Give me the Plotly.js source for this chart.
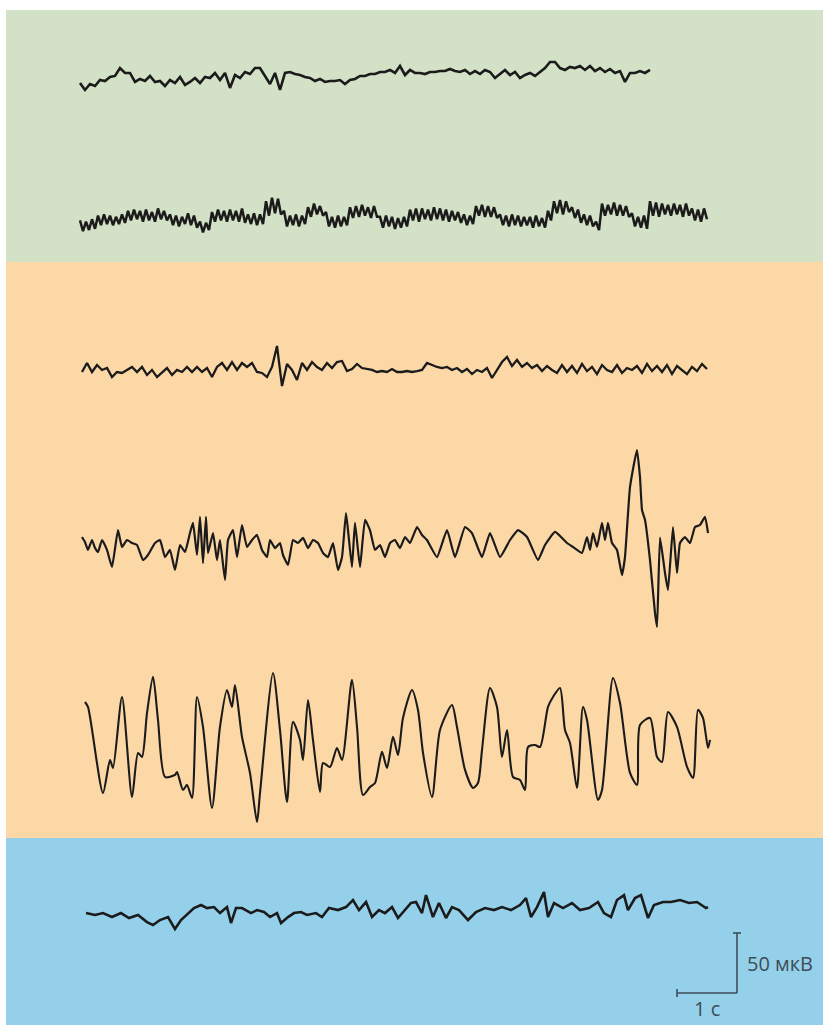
<!DOCTYPE html>
<html>
<head>
<meta charset="utf-8">
<script src="https://cdn.plot.ly/plotly-3.0.1.min.js"></script>
<style>html,body{margin:0;padding:0;background:#fff;}#chart{width:823px;height:1027px;}</style>
</head>
<body>
<div id="chart"></div>
<script>
// ---------------- DATA (time in s, amplitude in µV) ----------------
// Channel 1 (uniform sampling)
const ch1Start = 0, ch1Step = 1/12;
const ch1Values = [-4.2,-10,-5,-6.7,-1.7,-2.5,0.8,1.7,8.3,4.2,
4.2,-3.3,-0.8,-2.5,1.7,-3.3,-2.5,-6.7,-1.7,-4.2,
0.8,-5.8,-3.3,0,-4.2,0.8,0,4.2,-1.7,4.2,
-8.3,2.5,0,5,3.3,8.3,8.3,1.7,-5,4.2,
-10,4.2,5,3.3,2.5,0.8,0,-2.5,-0.8,-3.3,
-2.5,-2.5,-1.7,-5,-1.7,-0.8,1.7,1.7,3.3,3.3,
5,5,6.7,4.2,10,2.5,6.7,4.2,4.2,3.3,
5,5,5.8,5.8,7.5,5.8,5,6.7,3.3,5.8,
3.3,6.7,5,0,3.3,6.7,2.5,5,0,2.5,
4.2,1.7,5,8.3,13.3,13.3,8.3,6.7,9.2,8.3,
10,6.7,10,5.8,8.3,5,7.5,4.2,5.8,-3.3,
4.2,4.2,5.8,4.2,6.7];

// Channel 2 (uniform sampling)
const ch2Start = 0, ch2Step = 0.05;
const ch2Values = [-2,-11,-3,-10,-1,-9,2,-6,3,-5,
2,-6,1,-5,3,-4,6,-2,7,-1,
6,-3,7,-2,5,-3,8,-1,6,-2,
3,-6,2,-7,1,-5,4,-6,2,-8,
-3,-12,-4,-10,5,-3,7,-2,6,-3,
7,-2,6,-3,8,-4,3,-5,4,-6,
3,-5,14,2,17,4,16,3,6,-7,
2,-6,3,-7,2,-5,9,1,12,3,
10,2,5,-7,1,-8,2,-7,1,-6,
9,0,10,1,11,2,9,0,10,1,
1,-8,2,-7,1,-9,0,-8,1,-7,
7,-2,8,-3,8,-1,7,-2,9,-1,
8,-2,7,-3,6,-2,5,-4,3,-6,
2,-5,10,2,11,1,10,1,9,0,
3,-6,2,-7,3,-6,2,-7,1,-6,
1,-8,2,-7,0,-8,6,-2,14,4,
15,3,14,5,9,0,7,-4,3,-6,
2,-7,-3,-10,12,2,11,3,13,2,
11,2,10,1,4,-7,1,-8,2,-9,
14,2,13,1,12,3,11,2,12,3,
11,1,12,2,8,-2,7,-3,8,-1];

// Channel 3 (uniform sampling)
const ch3Start = 1/30, ch3Step = 1/12;
const ch3Values = [-2.5,5,-2.5,3.3,-0.8,0.8,-6.7,-2.5,-3.3,-0.8,
1.7,-2.5,1.7,-5,-0.8,-6.7,-3.3,0.8,-5,-0.8,
-2.5,1.7,-2.5,1.7,-2.5,0.8,-6.7,1.7,5,-0.8,
5.8,-0.8,5,1.7,5,-2.5,-3.3,-6.7,1.7,19.2,
-14.2,4.2,-0.8,-9.2,5,-0.8,5.8,1.7,-0.8,5,
0.8,5.8,6.7,-1.7,0,4.2,0.8,0,-0.8,-2.5,
-1.7,-2.5,0,-2.5,-2.5,-1.7,-2.5,-1.7,-0.8,5,
3.3,1.7,0.8,1.7,-0.8,0.8,-2.5,0,-4.2,-0.8,
-2.5,0.8,-7.5,-0.8,5.8,10,2.5,7.5,1.7,5,
0.8,3.3,-1.7,2.5,-0.8,-3.3,3.3,-2.5,2.5,-3.3,
4.2,-1.7,1.7,-4.2,3.3,-0.8,-2.5,3.3,-3.3,0.8,
-0.8,2.5,-3.3,4.2,-1.7,2.5,-2.5,3.3,-4.2,2.5,
-0.8,-4.2,1.7,-1.7,4.2,0];

// Channel 4
const ch4Time = [0.033,0.083,0.133,0.2,0.25,0.3,0.367,0.45,0.533,0.633,
0.7,0.783,0.867,0.95,1.05,1.133,1.25,1.333,1.417,1.5,
1.583,1.667,1.75,1.833,1.883,1.95,2.0,2.05,2.1,2.133,
2.217,2.283,2.333,2.417,2.467,2.55,2.617,2.7,2.783,2.867,
2.95,3.033,3.117,3.167,3.25,3.333,3.383,3.467,3.55,3.633,
3.717,3.8,3.883,3.967,4.05,4.133,4.217,4.3,4.367,4.433,
4.467,4.533,4.583,4.667,4.75,4.833,4.917,5.0,5.083,5.167,
5.25,5.333,5.417,5.5,5.617,5.7,5.783,5.95,6.117,6.25,
6.417,6.533,6.7,6.833,7.0,7.167,7.3,7.45,7.633,7.75,
7.917,8.117,8.217,8.367,8.45,8.5,8.55,8.617,8.7,8.75,
8.8,8.867,8.95,9.033,9.083,9.167,9.283,9.333,9.367,9.417,
9.5,9.583,9.617,9.667,9.75,9.8,9.883,9.95,10.0,10.083,
10.167,10.25,10.333,10.417,10.467];
const ch4Values = [2.5,-1.7,-8.3,0,-6.7,-10,0,-8.3,-22.5,8.3,
-5.8,0,-2.5,-4.2,-16.7,-12.5,-2.5,0,-14.2,-8.3,
-25,-4.2,-10,5.8,14.2,-12.5,19.2,-19.2,19.2,-10.8,
5.8,-16.7,0,-33.3,0,8.3,-14.2,12.5,-5.8,0,
4.2,-8.3,-14.2,0,-6.7,-2.5,-12.5,-20.8,0,-2.5,
1.7,-6.7,0,-2.5,-10.8,-14.2,-2.5,-25,-14.2,22.5,
8.3,-22.5,14.2,-22.5,16.7,8.3,-8.3,-4.2,-14.2,-2.5,
0,-6.7,2.5,-2.5,10.8,4.2,0,-14.2,8.3,-14.2,
10.8,5.8,-14.2,5.8,-14.2,0,8.3,2.5,-16.7,-4.2,
6.7,-2.5,-5.8,-10.8,2.5,-8.3,5.8,-5.8,14.2,0,
14.2,-2.5,-8.3,-29.2,-14.2,44.2,75,52.5,25,16.7,
-16.7,-60.8,-72.5,2,-27.5,-41.7,10.8,-27.5,-2.5,2.5,
-2.5,10.8,12.5,19.2,5.8];

// Channel 5
const ch5Time = [0.083,0.133,0.383,0.5,0.55,0.7,0.867,0.967,1.033,1.117,
1.217,1.3,1.417,1.583,1.617,1.717,1.783,1.867,1.95,2.05,
2.2,2.333,2.45,2.533,2.583,2.7,2.833,2.95,3.0,3.217,
3.333,3.45,3.55,3.667,3.717,3.8,3.883,4.0,4.05,4.167,
4.283,4.367,4.533,4.617,4.717,4.833,4.917,5.033,5.117,5.217,
5.3,5.383,5.533,5.633,5.717,5.867,6.0,6.2,6.283,6.417,
6.55,6.633,6.7,6.833,6.95,7.033,7.117,7.217,7.333,7.417,
7.467,7.583,7.667,7.8,7.883,8.0,8.083,8.167,8.283,8.383,
8.45,8.633,8.7,8.883,9.0,9.167,9.283,9.333,9.5,9.617,
9.7,9.8,9.95,10.117,10.217,10.3,10.383,10.467,10.5];
const ch5Values = [35.8,31.7,-40,-12.5,-19.2,40,-43.3,-6.7,-10,26.7,
56.7,20.8,-26.7,-25,-22.5,-37.5,-33.3,-44.2,40,15,
-52.5,15,45.8,31.7,50,6.7,-23.3,-64.2,-40,60,
12.5,-47.5,19.2,4.2,-12.5,37.5,4.2,-39.2,-15,-18.3,
-2.5,-12.5,54.2,15,-41.7,-35,-31.7,-5.8,-19.2,6.7,
-8.3,22.5,45.8,29.2,-6.7,-43.3,12.5,33.3,15,-20.8,
-35.8,-31.7,-4.2,47.5,31.7,-10,12.5,-26.7,-29.2,-37.5,
-1.7,0,-1.7,31.7,40,47.5,12.5,1.7,-35.8,31.7,
20.8,-45.8,-37.5,55.8,35,-23.3,-33.3,16.7,22.5,-10,
-14.2,27.5,15,-18.3,-27.5,29.2,22.5,-2.5,4.2];

// Channel 6
const ch6Time = [0.1,0.25,0.383,0.533,0.683,0.817,0.967,1.117,1.217,1.333,
1.467,1.583,1.683,1.8,1.9,2.017,2.117,2.233,2.333,2.45,
2.517,2.6,2.7,2.85,2.95,3.067,3.167,3.283,3.35,3.467,
3.567,3.683,3.783,3.933,4.033,4.15,4.3,4.433,4.55,4.65,
4.767,4.867,4.983,5.083,5.2,5.3,5.417,5.517,5.6,5.7,
5.767,5.883,5.983,6.1,6.2,6.317,6.467,6.6,6.75,6.9,
7.033,7.183,7.333,7.433,7.517,7.617,7.733,7.8,7.9,8.05,
8.2,8.333,8.483,8.633,8.733,8.85,8.95,9.067,9.133,9.25,
9.35,9.467,9.567,9.717,9.85,10.0,10.15,10.283,10.433,10.467];
const ch6Values = [-1.7,-3.3,-1.7,-5,-1.7,-5.8,-3.3,-9.2,-11.7,-7.5,
-5,-15,-7.5,-1.7,2.5,5,2.5,3.3,-1.7,3.3,
-10,2.5,2.5,-1.7,0.8,-0.8,-5,-1.7,-10,-5,
-1.7,-0.8,-3.3,-1.7,-5,2.5,0.8,3.3,9.2,0.8,
7.5,-5,0.8,-1.7,3.3,-5.8,0.8,6.7,7.5,-1.7,
13.3,-5,6.7,-5.8,3.3,0.8,-7.5,-0.8,2.5,0.8,
3.3,0.8,5,10.8,-5,3.3,15.8,-5,6.7,2.5,
6.7,0.8,2.5,7.5,-1.7,-5,9.2,13.3,0.8,10.8,
13.3,-5.8,5,7.5,7.5,9.2,6.7,7.5,2.5,3.3];

// Calibration bar
const scaleTime = 1;      // s
const scaleAmp = 50;      // µV
const scaleTimeLabel = '1 с';
const scaleAmpLabel = '50 мкВ';

// ---------------- LAYOUT CONFIG ----------------
const W = 823, H = 1027;
const pxPerSec = 60, pxPerUV = 1.2;
const xOriginPx = 80;
const xRange = [-xOriginPx / pxPerSec, (W - xOriginPx) / pxPerSec];
const yRange = [-H / pxPerUV, 0];
// channel baselines (µV below the top edge)
const baselines = [-65, -181.7, -307.5, -450, -620.8, -759.2];
const widths = [2.6, 2.5, 2.3, 2.2, 2.1, 2.6];
const shapesLine = ['linear', 'linear', 'linear', 'spline', 'spline', 'linear'];
const smooth = [0, 0, 0, 0.4, 0.7, 0];
const lineColor = '#1b1b1b';

function uniformTimes(start, step, n) {
  const t = [];
  for (let i = 0; i < n; i++) t.push(start + i * step);
  return t;
}
const channels = [
  {t: uniformTimes(ch1Start, ch1Step, ch1Values.length), v: ch1Values},
  {t: uniformTimes(ch2Start, ch2Step, ch2Values.length), v: ch2Values},
  {t: uniformTimes(ch3Start, ch3Step, ch3Values.length), v: ch3Values},
  {t: ch4Time, v: ch4Values},
  {t: ch5Time, v: ch5Values},
  {t: ch6Time, v: ch6Values}
];

const traces = channels.map((c, i) => {
  const line = {color: lineColor, width: widths[i], shape: shapesLine[i]};
  if (shapesLine[i] === 'spline') line.smoothing = smooth[i];
  return {
    type: 'scatter', mode: 'lines',
    x: c.t, y: c.v.map(v => v + baselines[i]),
    line: line, hoverinfo: 'skip', showlegend: false
  };
});

const panelLeft = 6 / W;
const bands = [
  {top: 10, bottom: 262, color: '#d3e2c6'},
  {top: 262, bottom: 838, color: '#fcd8a7'},
  {top: 838, bottom: 1025, color: '#95d0ea'}
];
const shapes = bands.map(b => ({
  type: 'rect', xref: 'paper', yref: 'paper', layer: 'below',
  x0: panelLeft, x1: 1, y0: 1 - b.bottom / H, y1: 1 - b.top / H,
  fillcolor: b.color, line: {width: 0}
}));

// calibration bar in data coordinates
const barX = 10.95, barY = -827.5;
const barColor = '#3e4c57';
const capT = 4 / pxPerSec, capA = 4 / pxPerUV;
shapes.push(
  {type: 'line', xref: 'x', yref: 'y', x0: barX, x1: barX, y0: barY, y1: barY + scaleAmp, line: {color: barColor, width: 1.6}},
  {type: 'line', xref: 'x', yref: 'y', x0: barX - scaleTime, x1: barX, y0: barY, y1: barY, line: {color: barColor, width: 1.6}},
  {type: 'line', xref: 'x', yref: 'y', x0: barX - capT, x1: barX + capT, y0: barY + scaleAmp, y1: barY + scaleAmp, line: {color: barColor, width: 1.6}},
  {type: 'line', xref: 'x', yref: 'y', x0: barX - scaleTime, x1: barX - scaleTime, y0: barY - capA, y1: barY + capA, line: {color: barColor, width: 1.6}}
);

const annotations = [
  {xref: 'x', yref: 'y', x: barX + 0.13, y: barY + scaleAmp / 2, text: scaleAmpLabel, showarrow: false,
   xanchor: 'left', yanchor: 'middle', font: {family: 'Open Sans, sans-serif', size: 20, color: barColor}},
  {xref: 'x', yref: 'y', x: barX - scaleTime / 2, y: barY - 13, text: scaleTimeLabel, showarrow: false,
   xanchor: 'center', yanchor: 'middle', font: {family: 'Open Sans, sans-serif', size: 20, color: barColor}}
];

const layout = {
  width: W, height: H,
  margin: {l: 0, r: 0, t: 0, b: 0},
  paper_bgcolor: '#ffffff', plot_bgcolor: 'rgba(0,0,0,0)',
  xaxis: {range: xRange, visible: false, fixedrange: true},
  yaxis: {range: yRange, visible: false, fixedrange: true},
  shapes: shapes, annotations: annotations, showlegend: false
};

Plotly.newPlot('chart', traces, layout, {staticPlot: true, displayModeBar: false});
</script>
</body>
</html>
